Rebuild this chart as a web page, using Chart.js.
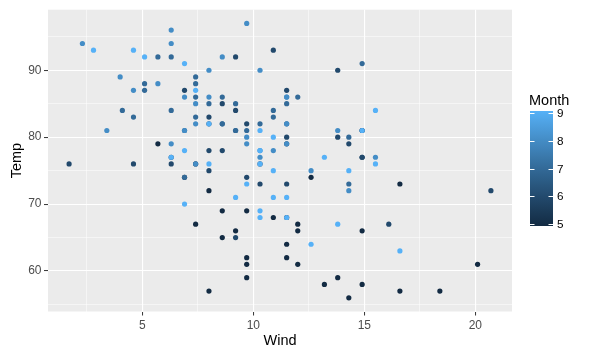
<!DOCTYPE html>
<html>
<head>
<meta charset="utf-8">
<script src="https://cdn.jsdelivr.net/npm/chart.js@4"></script>
<style>
  html, body { margin: 0; padding: 0; background: #fff; }
  #wrap { width: 593px; height: 357px; }
</style>
</head>
<body>
<div id="wrap"><canvas id="c" width="593" height="357"></canvas></div>
<script>
// airquality: Wind, Temp, Month (rows 1..153)
const wind = [
  7.4, 8.0, 12.6, 11.5, 14.3, 14.9, 8.6, 13.8, 20.1, 8.6, 6.9, 9.7, 9.2, 10.9, 13.2, 11.5, 12.0, 18.4, 11.5, 9.7, 9.7, 16.6, 9.7, 12.0, 16.6, 14.9, 8.0, 12.0, 14.9, 5.7, 7.4,
  8.6, 9.7, 16.1, 9.2, 8.6, 14.3, 9.7, 6.9, 13.8, 11.5, 10.9, 9.2, 8.0, 13.8, 11.5, 14.9, 20.7, 9.2, 11.5, 10.3, 6.3, 1.7, 4.6, 6.3, 8.0, 8.0, 10.3, 11.5, 14.9, 8.0,
  4.1, 9.2, 9.2, 10.9, 4.6, 10.9, 5.1, 6.3, 5.7, 7.4, 8.6, 14.3, 14.9, 14.9, 14.3, 6.9, 10.3, 6.3, 5.1, 11.5, 6.9, 9.7, 11.5, 8.6, 8.0, 8.6, 12.0, 7.4, 7.4, 7.4, 9.2,
  6.9, 13.8, 7.4, 6.9, 7.4, 4.6, 4.0, 10.3, 8.0, 8.6, 11.5, 11.5, 11.5, 9.7, 11.5, 10.3, 6.3, 7.4, 10.9, 10.3, 15.5, 14.3, 12.6, 9.7, 3.4, 8.0, 5.7, 9.7, 2.3, 6.3, 6.3,
  6.9, 5.1, 2.8, 4.6, 7.4, 15.5, 10.9, 10.3, 10.9, 9.7, 14.9, 15.5, 6.3, 10.9, 11.5, 6.9, 13.8, 10.3, 10.3, 8.0, 12.6, 9.2, 10.3, 10.3, 16.6, 6.9, 13.2, 14.3, 8.0, 11.5
];
const temp = [
  67, 72, 74, 62, 56, 66, 65, 59, 61, 69, 74, 69, 66, 68, 58, 64, 66, 57, 68, 62, 59, 73, 61, 61, 57, 58, 57, 67, 81, 79, 76,
  78, 74, 67, 84, 85, 79, 82, 87, 90, 87, 93, 92, 82, 80, 79, 77, 72, 65, 73, 76, 77, 76, 76, 76, 75, 78, 73, 80, 77, 83,
  84, 85, 81, 84, 83, 83, 88, 92, 92, 89, 82, 73, 81, 91, 80, 81, 82, 84, 87, 85, 74, 81, 82, 86, 85, 82, 86, 88, 86, 83, 81,
  81, 81, 82, 86, 85, 87, 89, 90, 90, 92, 86, 86, 82, 80, 79, 77, 79, 76, 78, 78, 77, 72, 75, 79, 81, 86, 88, 97, 94, 96, 94,
  91, 92, 93, 93, 87, 84, 80, 78, 75, 73, 81, 76, 77, 71, 71, 78, 67, 76, 68, 82, 64, 71, 81, 69, 63, 70, 77, 75, 76, 68
];
const monthCounts = [[5, 31], [6, 30], [7, 31], [8, 31], [9, 30]];
const month = monthCounts.flatMap(([m, n]) => Array(n).fill(m));

const xMajor = [5, 10, 15, 20];
const xMinor = [2.5, 7.5, 12.5, 17.5];
const yMajor = [60, 70, 80, 90];
const yMinor = [55, 65, 75, 85, 95];
const legendTicks = [5, 6, 7, 8, 9];

// ggplot default continuous colour scale, interpolated in Lab
const lowCol = '#132B43', highCol = '#56B1F7';
function hexToLab(h) {
  let rgb = [1, 3, 5].map(i => parseInt(h.substr(i, 2), 16) / 255)
    .map(c => c <= 0.04045 ? c / 12.92 : Math.pow((c + 0.055) / 1.055, 2.4));
  const [r, g, b] = rgb;
  let x = (r * 0.4124 + g * 0.3576 + b * 0.1805) / 0.95047;
  let y = (r * 0.2126 + g * 0.7152 + b * 0.0722);
  let z = (r * 0.0193 + g * 0.1192 + b * 0.9505) / 1.08883;
  const f = t => t > 0.008856 ? Math.cbrt(t) : 7.787 * t + 16 / 116;
  x = f(x); y = f(y); z = f(z);
  return [116 * y - 16, 500 * (x - y), 200 * (y - z)];
}
function labToHex([L, a, bb]) {
  let y = (L + 16) / 116, x = a / 500 + y, z = y - bb / 200;
  const fi = t => t * t * t > 0.008856 ? t * t * t : (t - 16 / 116) / 7.787;
  x = fi(x) * 0.95047; y = fi(y); z = fi(z) * 1.08883;
  let r = x * 3.2406 + y * -1.5372 + z * -0.4986;
  let g = x * -0.9689 + y * 1.8758 + z * 0.0415;
  let b = x * 0.0557 + y * -0.2040 + z * 1.0570;
  return '#' + [r, g, b].map(c => {
    c = c <= 0.0031308 ? 12.92 * c : 1.055 * Math.pow(c, 1 / 2.4) - 0.055;
    c = Math.round(Math.min(1, Math.max(0, c)) * 255);
    return c.toString(16).padStart(2, '0');
  }).join('');
}
const labLo = hexToLab(lowCol), labHi = hexToLab(highCol);
function monthColor(v) {
  const t = (v - 5) / 4;
  return labToHex(labLo.map((l, i) => l + (labHi[i] - l) * t));
}

const points = wind.map((w, i) => ({ x: w, y: temp[i] }));
const colors = month.map(monthColor);

const isMajor = (v, arr) => arr.some(m => Math.abs(m - v) < 1e-6);

const panelBg = {
  id: 'panelBg',
  beforeDraw(chart) {
    const { ctx, chartArea: a } = chart;
    ctx.save();
    ctx.fillStyle = '#EBEBEB';
    ctx.fillRect(a.left, a.top, a.right - a.left, a.bottom - a.top);
    ctx.restore();
  }
};

const extras = {
  id: 'extras',
  afterDraw(chart) {
    const { ctx, chartArea: a } = chart;
    ctx.save();
    // axis titles
    ctx.fillStyle = '#000';
    ctx.font = '14.5px "Liberation Sans", Arial, sans-serif';
    ctx.textAlign = 'center';
    ctx.textBaseline = 'middle';
    ctx.fillText('Wind', (a.left + a.right) / 2, 341);
    ctx.translate(17, (a.top + a.bottom) / 2);
    ctx.rotate(-Math.PI / 2);
    ctx.fillText('Temp', 0, 0);
    ctx.restore();

    // colour bar legend
    ctx.save();
    const bx = 530, bw = 23, top = 111, bot = 226;
    const t9 = 113.3, t5 = 224;
    const grad = ctx.createLinearGradient(0, bot, 0, top);
    for (let k = 0; k <= 20; k++) {
      grad.addColorStop(k / 20, monthColor(5 + 4 * k / 20));
    }
    ctx.fillStyle = grad;
    ctx.fillRect(bx, top, bw, bot - top);
    ctx.strokeStyle = '#fff';
    ctx.lineWidth = 1;
    ctx.fillStyle = '#000';
    ctx.font = '11.7px "Liberation Sans", Arial, sans-serif';
    ctx.textAlign = 'left';
    ctx.textBaseline = 'middle';
    legendTicks.forEach(v => {
      const y = Math.round(t5 + (t9 - t5) * (v - 5) / 4) + 0.5;
      ctx.beginPath();
      ctx.moveTo(bx, y); ctx.lineTo(bx + 4.5, y);
      ctx.moveTo(bx + bw - 4.5, y); ctx.lineTo(bx + bw, y);
      ctx.stroke();
      ctx.fillText(String(v), 557, y);
    });
    ctx.font = '14.5px "Liberation Sans", Arial, sans-serif';
    ctx.fillText('Month', 529, 101);
    ctx.restore();
  }
};

new Chart(document.getElementById('c'), {
  type: 'scatter',
  data: {
    datasets: [{
      data: points,
      pointBackgroundColor: colors,
      pointBorderWidth: 0,
      pointRadius: 2.6,
      pointHoverRadius: 2.6
    }]
  },
  options: {
    responsive: false,
    animation: false,
    events: [],
    layout: { padding: { top: 7, right: 81, left: 0, bottom: 0 } },
    plugins: { legend: { display: false }, tooltip: { enabled: false } },
    scales: {
      x: {
        type: 'linear',
        min: 0.75, max: 21.65,
        afterBuildTicks(s) { s.ticks = xMinor.concat(xMajor).sort((p, q) => p - q).map(v => ({ value: v })); },
        afterFit(s) { s.height = 45.5; },
        border: { display: false },
        grid: {
          color: '#FFFFFF',
          lineWidth: c => isMajor(c.tick.value, xMajor) ? 1.1 : 0.5,
          tickLength: 4,
          tickColor: c => isMajor(c.tick.value, xMajor) ? '#333333' : 'rgba(0,0,0,0)',
          tickWidth: 1
        },
        ticks: {
          autoSkip: false,
          maxRotation: 0,
          padding: 3,
          color: '#4D4D4D',
          font: { family: '"Liberation Sans", Arial, sans-serif', size: 12 },
          callback: v => isMajor(v, xMajor) ? String(v) : ''
        }
      },
      y: {
        type: 'linear',
        min: 53.95, max: 99.05,
        afterBuildTicks(s) { s.ticks = yMinor.concat(yMajor).sort((p, q) => p - q).map(v => ({ value: v })); },
        afterFit(s) { s.width = 48; },
        border: { display: false },
        grid: {
          color: '#FFFFFF',
          lineWidth: c => isMajor(c.tick.value, yMajor) ? 1.1 : 0.5,
          tickLength: 4,
          tickColor: c => isMajor(c.tick.value, yMajor) ? '#333333' : 'rgba(0,0,0,0)',
          tickWidth: 1
        },
        ticks: {
          autoSkip: false,
          padding: 2.5,
          color: '#4D4D4D',
          font: { family: '"Liberation Sans", Arial, sans-serif', size: 12 },
          callback: v => isMajor(v, yMajor) ? String(v) : ''
        }
      }
    }
  },
  plugins: [panelBg, extras]
});
</script>
</body>
</html>
